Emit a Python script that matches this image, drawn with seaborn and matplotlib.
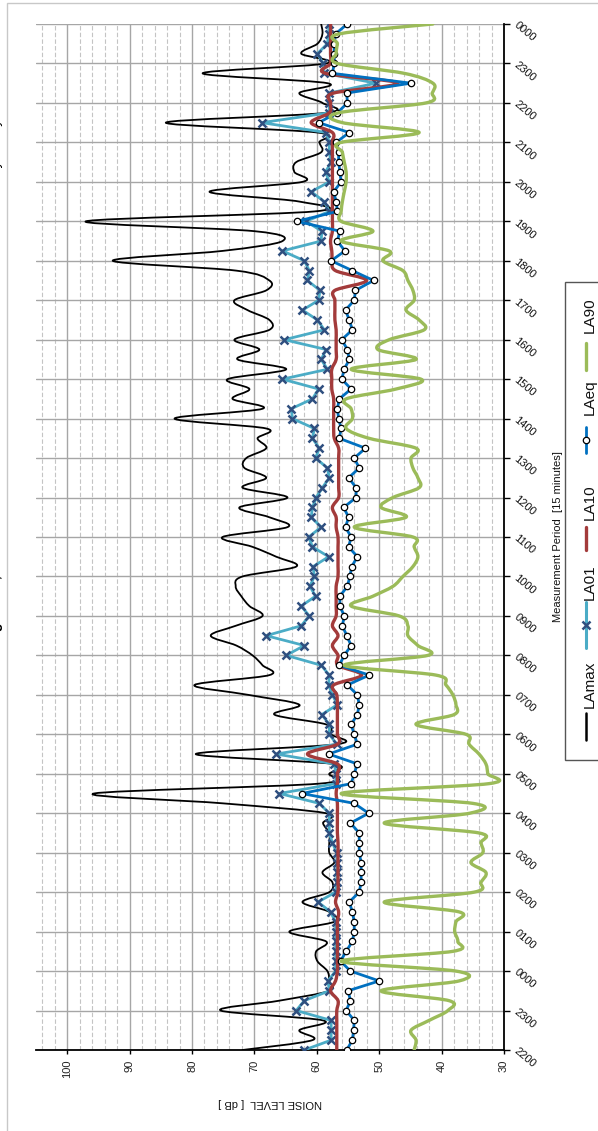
import numpy as np
import pandas as pd
import matplotlib
matplotlib.use("Agg")
import matplotlib.pyplot as plt
import seaborn as sns
from matplotlib.path import Path
from matplotlib.patches import PathPatch, Rectangle
from matplotlib.lines import Line2D

# ---------------- data (15-minute periods from 2200 to 0000 two days later) -------------
TIME_LABELS = ["2200", "2300", "0000", "0100", "0200", "0300", "0400", "0500", "0600",
               "0700", "0800", "0900", "1000", "1100", "1200", "1300", "1400", "1500",
               "1600", "1700", "1800", "1900", "2000", "2100", "2200", "2300", "0000"]

LAMAX = [71.9, 60.7, 62.8, 59.0, 75.4, 66.0, 58.0, 58.0, 58.3, 59.9,
         60.1, 58.5, 64.4, 57.2, 58.0, 62.3, 58.0, 57.5, 59.1, 57.2,
         58.0, 58.0, 58.0, 59.0, 58.5, 75.0, 95.7, 59.6, 58.0, 57.5,
         79.4, 56.7, 57.7, 58.5, 66.8, 62.8, 71.0, 79.6, 67.6, 68.7,
         70.3, 72.9, 77.0, 73.0, 68.7, 70.8, 72.1, 73.0, 71.9, 63.3,
         66.5, 70.3, 75.1, 64.7, 67.6, 72.4, 64.7, 71.9, 68.1, 71.6,
         71.3, 68.1, 69.5, 68.1, 82.8, 68.7, 73.5, 70.8, 74.3, 64.9,
         72.7, 69.2, 73.2, 67.6, 67.6, 71.1, 73.2, 68.1, 67.6, 72.9,
         92.7, 75.1, 65.5, 70.0, 97.0, 60.4, 62.8, 77.2, 62.3, 63.6,
         63.3, 59.3, 59.6, 59.9, 84.2, 58.5, 59.1, 62.8, 58.3, 78.3,
         58.5, 62.5, 59.9, 59.1, 59.3]

LA01 = [62.0, 57.7, 57.7, 57.7, 63.3, 62.0, 58.0, 58.2, 57.0, 57.0,
        57.0, 57.0, 57.0, 57.0, 57.8, 59.8, 57.0, 56.8, 56.8, 56.8,
        56.8, 57.5, 58.0, 58.0, 58.0, 59.6, 66.0, 57.0, 56.9, 57.2,
        66.5, 56.8, 58.0, 58.0, 59.2, 56.7, 57.5, 58.1, 58.0, 59.3,
        64.9, 62.0, 68.1, 62.5, 61.2, 62.5, 60.2, 61.1, 60.4, 60.6,
        58.1, 60.7, 61.3, 59.3, 60.9, 60.7, 60.1, 59.1, 58.0, 58.3,
        60.2, 59.6, 60.7, 60.4, 63.9, 64.1, 60.7, 59.7, 65.5, 58.3,
        59.3, 58.5, 65.2, 58.8, 59.9, 62.3, 59.7, 59.5, 61.5, 61.2,
        62.0, 65.5, 59.3, 59.2, 61.7, 58.0, 58.8, 60.9, 58.0, 58.6,
        57.7, 58.0, 58.0, 58.5, 68.8, 58.0, 58.0, 58.0, 50.5, 58.8,
        59.0, 59.9, 58.3, 58.1, 58.1]

LA10 = [56.8, 56.8, 56.8, 56.8, 56.8, 56.6, 57.8, 57.0, 56.7, 56.7,
        56.7, 56.7, 56.7, 56.7, 56.5, 57.0, 56.6, 56.6, 56.6, 56.6,
        56.6, 56.6, 56.7, 56.7, 56.7, 56.7, 56.9, 56.7, 56.7, 56.7,
        61.5, 56.7, 56.7, 56.7, 56.7, 56.7, 56.8, 57.3, 52.8, 56.6,
        56.6, 57.5, 56.6, 57.5, 56.9, 56.9, 56.9, 56.9, 56.6, 56.6,
        56.6, 56.6, 56.6, 56.9, 56.9, 57.5, 56.5, 56.5, 56.5, 56.5,
        56.5, 56.5, 57.2, 57.3, 57.3, 57.3, 57.3, 57.6, 57.6, 57.6,
        56.9, 56.9, 56.9, 56.9, 57.1, 57.1, 57.1, 57.1, 52.0, 57.0,
        57.5, 57.6, 57.8, 57.5, 57.5, 57.5, 57.5, 57.5, 57.5, 57.5,
        57.5, 57.5, 57.5, 57.5, 60.9, 58.0, 57.8, 57.3, 47.0, 58.6,
        57.8, 57.8, 57.8, 57.8, 57.8]

LAEQ = [55.2, 54.3, 54.1, 54.0, 55.3, 54.6, 55.0, 50.0, 54.6, 56.2,
        55.3, 54.3, 54.0, 54.0, 54.3, 54.8, 53.2, 52.9, 52.9, 52.9,
        53.2, 53.2, 53.2, 54.6, 51.7, 54.0, 62.4, 54.5, 54.0, 53.5,
        58.1, 53.5, 54.0, 54.5, 53.5, 53.2, 53.5, 55.1, 51.6, 56.4,
        55.6, 54.5, 55.2, 55.9, 55.6, 56.3, 56.3, 55.1, 54.7, 54.4,
        53.5, 54.9, 54.5, 55.4, 54.9, 55.7, 53.7, 53.7, 54.9, 53.2,
        54.0, 52.2, 56.4, 56.1, 56.5, 56.7, 56.4, 54.5, 56.0, 55.6,
        54.8, 55.1, 56.0, 54.3, 54.8, 55.4, 54.0, 53.8, 50.9, 54.3,
        57.7, 55.5, 56.7, 56.3, 63.2, 56.7, 56.9, 57.3, 56.1, 56.3,
        56.5, 56.5, 56.9, 54.8, 59.7, 56.7, 55.1, 55.2, 44.9, 57.5,
        57.2, 57.2, 57.2, 57.0, 55.1]

LA90 = [44.4, 44.1, 44.9, 42.0, 39.0, 38.8, 49.7, 37.2, 37.7, 56.1,
        38.2, 37.4, 37.9, 37.7, 37.2, 49.2, 34.8, 33.7, 32.9, 35.3,
        33.4, 33.7, 34.0, 49.2, 35.5, 35.0, 56.1, 32.4, 32.6, 32.9,
        34.0, 35.6, 36.1, 44.1, 38.0, 37.7, 38.2, 39.3, 40.9, 55.6,
        42.2, 43.8, 45.4, 45.4, 46.8, 54.5, 51.0, 47.8, 46.2, 44.6,
        43.8, 44.4, 44.6, 54.0, 45.7, 49.7, 47.8, 43.6, 43.8, 44.6,
        44.9, 44.1, 51.6, 55.3, 54.3, 54.5, 55.3, 47.3, 43.3, 54.5,
        44.1, 50.2, 48.4, 42.8, 43.6, 45.7, 44.4, 44.6, 45.4, 46.2,
        49.4, 48.4, 56.1, 51.0, 56.1, 56.1, 55.9, 55.6, 55.3, 55.3,
        55.6, 55.9, 56.1, 43.6, 55.9, 56.5, 42.5, 41.5, 41.4, 46.0,
        56.7, 56.9, 56.7, 56.4, 41.4]

PERIOD = list(range(len(LAEQ)))

# ---------------- styling -------------
sns.set_theme(style="white")
plt.rcParams["font.family"] = ["Liberation Sans", "DejaVu Sans"]

C_MAX = "#000000"
C_L01 = "#4BACC6"
C_L01_MK = "#2F4F7F"
C_L10 = "#A33B3B"
C_LEQ = "#0070C0"
C_L90 = "#9BBB59"

W, H = 598, 1131
fig = plt.figure(figsize=(W / 100, H / 100), dpi=100)
fig.patch.set_facecolor("white")
ax = fig.add_axes([36 / W, 81 / H, 468 / W, 1026 / H])
ax.set_facecolor("white")

df = pd.DataFrame({"period": PERIOD, "LAmax": LAMAX, "LA01": LA01,
                   "LA10": LA10, "LAeq": LAEQ, "LA90": LA90})


def smooth_path(xs, ys):
    """Excel-like smoothed line: cubic Bezier through every data point."""
    pts = np.column_stack([xs, ys]).astype(float)
    n = len(pts)
    verts = [pts[0]]
    codes = [Path.MOVETO]
    for i in range(n - 1):
        p0 = pts[i - 1] if i > 0 else pts[i]
        p1 = pts[i]
        p2 = pts[i + 1]
        p3 = pts[i + 2] if i + 2 < n else pts[i + 1]
        verts += [p1 + (p2 - p0) / 6.0, p2 - (p3 - p1) / 6.0, p2]
        codes += [Path.CURVE4] * 3
    return Path(verts, codes)


def add_smooth(col, color, lw, z):
    patch = PathPatch(smooth_path(df[col], df["period"]), facecolor="none",
                      edgecolor=color, lw=lw, transform=ax.transData,
                      zorder=z, capstyle="round", joinstyle="round")
    ax.add_patch(patch)


add_smooth("LAmax", C_MAX, 1.3, 3)
sns.lineplot(data=df, x="LA01", y="period", orient="y", sort=False, ax=ax,
             color=C_L01, lw=2.0, marker="x", markersize=5.5,
             markeredgecolor=C_L01_MK, markeredgewidth=1.8, zorder=4)
add_smooth("LA10", C_L10, 2.4, 5)
sns.lineplot(data=df, x="LAeq", y="period", orient="y", sort=False, ax=ax,
             color=C_LEQ, lw=2.0, marker="o", markersize=4.6,
             markerfacecolor="white", markeredgecolor="black",
             markeredgewidth=0.9, zorder=6)
add_smooth("LA90", C_L90, 2.4, 7)

# ---------------- axes -------------
ax.set_xlim(105, 30)
ax.set_ylim(0, 104)
ax.set_xticks(np.arange(30, 101, 10))
ax.set_xticks(np.arange(32, 105, 2), minor=True)
ax.set_yticks(np.arange(0, 105, 4))
ax.yaxis.tick_right()

ax.grid(axis="x", which="major", color="#a6a6a6", lw=1.0, ls="-")
ax.grid(axis="x", which="minor", color="#c4c4c4", lw=0.8, ls=(0, (4, 2)))
ax.grid(axis="y", which="major", color="#a6a6a6", lw=1.0, ls="-")
ax.set_axisbelow(True)

for s in ["top", "left"]:
    ax.spines[s].set_visible(False)
for s in ["bottom", "right"]:
    ax.spines[s].set_visible(True)
    ax.spines[s].set_color("black")
    ax.spines[s].set_linewidth(1.3)

ax.tick_params(axis="x", which="major", direction="out", length=3, width=1,
               color="black", pad=4, labelsize=8, labelcolor="#222222",
               bottom=True)
ax.tick_params(axis="x", which="minor", length=0)
ax.tick_params(axis="y", which="major", direction="out", length=4, width=1,
               color="black", pad=4, labelsize=8, labelcolor="#111111",
               right=True, left=False)

ax.set_xticklabels([str(v) for v in range(30, 101, 10)], rotation=90, va="top")
ax.set_yticklabels(TIME_LABELS, rotation=-40, rotation_mode="anchor",
                   ha="left", va="center")

ax.set_xlabel("NOISE LEVEL  [ dB ]", fontsize=8, rotation=180, color="#111111")
ax.xaxis.set_label_coords(0.5, -0.047)
ax.set_ylabel("Measurement Period  [15 minutes]", fontsize=8, rotation=90,
              color="#111111")
ax.yaxis.set_label_position("right")
ax.yaxis.set_label_coords((553 - 36) / 468, 0.5)


# ---------------- legend (rotated, drawn by hand) -------------
def fx(x):
    return x / W


def fy(y):
    return 1 - y / H


fig.add_artist(Rectangle((fx(565), fy(760)), fx(60), (760 - 282) / H,
                         transform=fig.transFigure, facecolor="white",
                         edgecolor="#555555", lw=1.0, zorder=10))

LEGEND = [("LAmax", C_MAX, 1.8, None, 713, 740, 708),
          ("LA01", C_L01, 2.2, "x", 602, 648, 600),
          ("LA10", C_L10, 2.4, None, 527, 550, 520),
          ("LAeq", C_LEQ, 2.0, "o", 427, 453, 415),
          ("LA90", C_L90, 2.4, None, 343, 370, 333)]
LX = 586
for name, col, lw, mk, y0, y1, ty in LEGEND:
    fig.add_artist(Line2D([fx(LX), fx(LX)], [fy(y0), fy(y1)], color=col, lw=lw,
                          transform=fig.transFigure, zorder=11))
    if mk == "x":
        fig.add_artist(Line2D([fx(LX)], [fy((y0 + y1) / 2)], marker="x",
                              markersize=5.5, markeredgewidth=1.8,
                              markeredgecolor=C_L01_MK, linestyle="none",
                              transform=fig.transFigure, zorder=12))
    if mk == "o":
        fig.add_artist(Line2D([fx(LX)], [fy((y0 + y1) / 2)], marker="o",
                              markersize=4.6, markeredgewidth=0.9,
                              markerfacecolor="white", markeredgecolor="black",
                              linestyle="none", transform=fig.transFigure,
                              zorder=12))
    fig.text(fx(LX + 4), fy(ty), name, rotation=90, ha="center", va="bottom",
             fontsize=11, color="#111111", zorder=12)

# ---------------- page frame and cut-off header text -------------
fig.add_artist(Rectangle((fx(6.5), -0.1), 1.2, fy(3) + 0.1,
                         transform=fig.transFigure, facecolor="none",
                         edgecolor="#c8c8c8", lw=1.0, zorder=1))
fig.text(fx(3.5), fy(283), "DATE:", rotation=90, ha="right", va="bottom",
         fontsize=10, fontweight="bold", color="black")
fig.text(fx(3.5), fy(210), "Monday 3 May 2021", rotation=90, ha="right",
         va="bottom", fontsize=10, color="black")
fig.text(fx(3.5), fy(768), "LOCATION: 34 Baking Street, Auckland", rotation=90,
         ha="right", va="bottom", fontsize=10, fontweight="bold", color="black")
fig.text(fx(3.5), fy(1131), "SITE 1", rotation=90, ha="right", va="bottom",
         fontsize=10, fontweight="bold", color="black")

fig.savefig("out.png", dpi=100, facecolor="white")
